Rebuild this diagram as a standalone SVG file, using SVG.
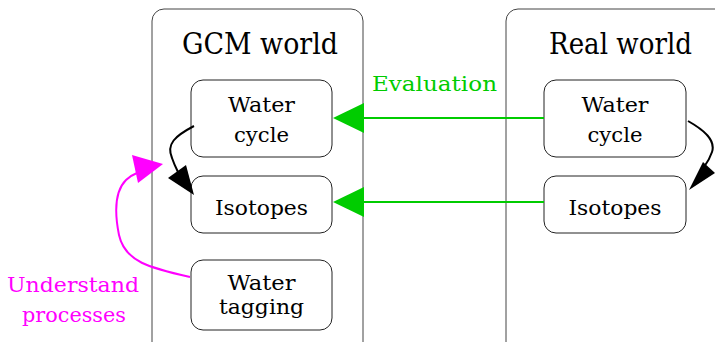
<svg xmlns="http://www.w3.org/2000/svg" width="715" height="342" viewBox="0 0 715 342">
  <defs>
    <style>
      .frame { fill: #fff; stroke: #444; stroke-width: 1; }
      .box { fill: #fff; stroke: #222; stroke-width: 1; }
      .t { font-family: 'DejaVu Serif', serif; text-anchor: middle; fill: #000; }
      .title { font-size: 29px; }
      .lbl { font-size: 21px; }
      .green { fill: #00cc00; }
      .mag { fill: #ff00ff; }
    </style>
  </defs>

  <!-- worlds -->
  <g id="gcm-world">
    <rect class="frame" x="152" y="9" width="211" height="350" rx="12"/>
    <text class="t title" x="260" y="54" textLength="156" lengthAdjust="spacingAndGlyphs">GCM world</text>
  </g>
  <g id="real-world">
    <rect class="frame" x="506" y="9" width="230" height="350" rx="12"/>
    <text class="t title" x="620.5" y="54" textLength="143" lengthAdjust="spacingAndGlyphs">Real world</text>
  </g>

  <!-- GCM nodes -->
  <g id="gcm-water-cycle">
    <rect class="box" x="191" y="80" width="141" height="77" rx="12"/>
    <text class="t lbl" x="261.5" y="112" textLength="67" lengthAdjust="spacingAndGlyphs">Water</text>
    <text class="t lbl" x="261.5" y="142" textLength="55" lengthAdjust="spacingAndGlyphs">cycle</text>
  </g>
  <g id="gcm-isotopes">
    <rect class="box" x="191" y="176" width="141" height="57" rx="12"/>
    <text class="t lbl" x="261.5" y="215" textLength="93" lengthAdjust="spacingAndGlyphs">Isotopes</text>
  </g>
  <g id="gcm-water-tagging">
    <rect class="box" x="191" y="260" width="141" height="70" rx="12"/>
    <text class="t lbl" x="261.5" y="290" textLength="68" lengthAdjust="spacingAndGlyphs">Water</text>
    <text class="t lbl" x="261.5" y="314" textLength="85" lengthAdjust="spacingAndGlyphs">tagging</text>
  </g>

  <!-- Real nodes -->
  <g id="real-water-cycle">
    <rect class="box" x="544" y="80" width="142" height="77" rx="12"/>
    <text class="t lbl" x="615" y="112" textLength="67" lengthAdjust="spacingAndGlyphs">Water</text>
    <text class="t lbl" x="615" y="142" textLength="55" lengthAdjust="spacingAndGlyphs">cycle</text>
  </g>
  <g id="real-isotopes">
    <rect class="box" x="544" y="176" width="142" height="57" rx="12"/>
    <text class="t lbl" x="615" y="215" textLength="93" lengthAdjust="spacingAndGlyphs">Isotopes</text>
  </g>

  <!-- connectors -->
  <g id="connectors">
    <!-- evaluation arrows -->
    <line x1="544" y1="118" x2="362" y2="118" stroke="#00cc00" stroke-width="2"/>
    <polygon points="333,118 364,103 364,133" fill="#00cc00"/>
    <line x1="544" y1="202" x2="362" y2="202" stroke="#00cc00" stroke-width="2"/>
    <polygon points="333,202 364,187 364,217" fill="#00cc00"/>
    <text class="t lbl green" x="434.5" y="91" textLength="125" lengthAdjust="spacingAndGlyphs">Evaluation</text>

    <!-- model water cycle to isotopes -->
    <path d="M194,126 C175,136 166,144 172,158 C174,164 176,168 178,172" fill="none" stroke="#000" stroke-width="2"/>
    <polygon points="194,195 168,178 186,165" fill="#000"/>

    <!-- real water cycle to isotopes -->
    <path d="M688,121 C704,130 716,140 712,152 C710,158 707,163 704,167" fill="none" stroke="#000" stroke-width="2"/>
    <polygon points="689,190 715,173 703,162" fill="#000"/>

    <!-- water tagging feedback -->
    <path d="M190,277 C150,268 125,262 119,235 C114,210 116,190 126,180 C129,177 132,175 137,173" fill="none" stroke="#ff00ff" stroke-width="2"/>
    <polygon points="163,164 132,155 138,183" fill="#ff00ff"/>
    <text class="t lbl mag" x="73" y="292" textLength="132" lengthAdjust="spacingAndGlyphs">Understand</text>
    <text class="t lbl mag" x="74" y="322" textLength="104" lengthAdjust="spacingAndGlyphs">processes</text>
  </g>
</svg>
